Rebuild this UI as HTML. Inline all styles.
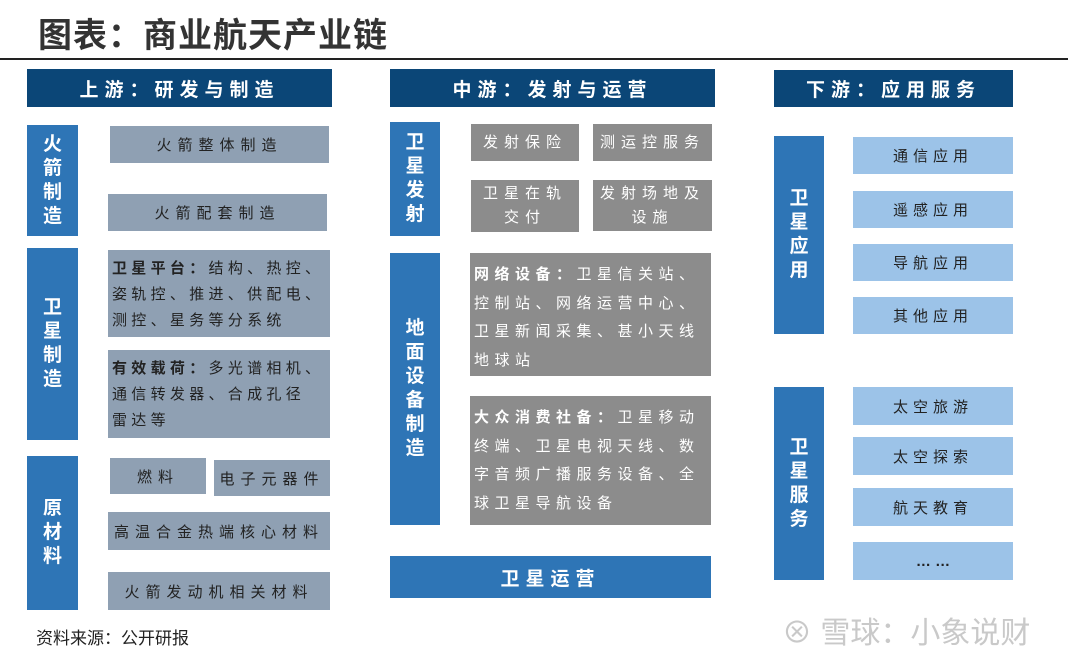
<!DOCTYPE html>
<html><head><meta charset="utf-8"><style>
*{margin:0;padding:0;box-sizing:border-box}
body{width:1068px;height:658px;background:#fff;position:relative;overflow:hidden;font-family:"Liberation Sans","Noto Sans CJK SC",sans-serif}
div{position:absolute}
.h{background:#0b4677;color:#fff;font-size:19px;font-weight:bold;letter-spacing:6px;display:flex;align-items:center;justify-content:center}
.v{background:#2e75b6;color:#fff;font-size:19px;font-weight:bold;line-height:24px;display:flex;align-items:center;justify-content:center;text-align:center;width:51px}
.g{background:#8fa0b3;color:#222;font-size:15px;letter-spacing:6px;display:flex;align-items:center;justify-content:center;text-align:center}
.m{background:#8c8c8c;color:#fff;font-size:15px;letter-spacing:6px;display:flex;align-items:center;justify-content:center;text-align:center;line-height:24px}
.t{display:block;text-align:left;padding:6px 0 0 4px;line-height:26px;letter-spacing:4.3px;white-space:nowrap}
.l{background:#9cc3e8;color:#222;font-size:15px;letter-spacing:5px;display:flex;align-items:center;justify-content:center;width:160px}
</style></head><body>
<div style="left:38px;top:8px;font-size:34px;font-weight:bold;color:#333;letter-spacing:1px">图表：商业航天产业链</div>
<div style="left:0;top:58px;width:1068px;height:2px;background:#222"></div>

<div class="h" style="left:27px;top:69px;width:305px;height:38px">上游：研发与制造</div>
<div class="h" style="left:390px;top:69px;width:325px;height:38px">中游：发射与运营</div>
<div class="h" style="left:774px;top:70px;width:239px;height:37px">下游：应用服务</div>

<div class="v" style="left:27px;top:125px;height:111px">火<br>箭<br>制<br>造</div>
<div class="v" style="left:27px;top:248px;height:192px">卫<br>星<br>制<br>造</div>
<div class="v" style="left:27px;top:456px;height:154px">原<br>材<br>料</div>
<div class="g" style="left:110px;top:126px;width:219px;height:37px">火箭整体制造</div>
<div class="g" style="left:108px;top:194px;width:219px;height:37px">火箭配套制造</div>
<div class="g t" style="left:108px;top:250px;width:222px;height:87px"><b>卫星平台：</b>结构、热控、<br>姿轨控、推进、供配电、<br>测控、星务等分系统</div>
<div class="g t" style="left:108px;top:350px;width:222px;height:88px"><b>有效载荷：</b>多光谱相机、<br>通信转发器、合成孔径<br>雷达等</div>
<div class="g" style="left:110px;top:458px;width:96px;height:36px">燃料</div>
<div class="g" style="left:214px;top:460px;width:116px;height:36px">电子元器件</div>
<div class="g" style="left:108px;top:512px;width:222px;height:38px">高温合金热端核心材料</div>
<div class="g" style="left:108px;top:572px;width:222px;height:38px">火箭发动机相关材料</div>

<div class="v" style="left:390px;top:122px;height:114px;width:50px">卫<br>星<br>发<br>射</div>
<div class="v" style="left:390px;top:253px;height:272px;width:50px">地<br>面<br>设<br>备<br>制<br>造</div>
<div class="m" style="left:471px;top:124px;width:108px;height:37px">发射保险</div>
<div class="m" style="left:593px;top:124px;width:119px;height:37px">测运控服务</div>
<div class="m" style="left:471px;top:180px;width:108px;height:52px">卫星在轨<br>交付</div>
<div class="m" style="left:593px;top:180px;width:119px;height:51px">发射场地及<br>设施</div>
<div class="m t" style="left:470px;top:253px;width:241px;height:123px;padding-top:8px;line-height:28.5px;letter-spacing:5.5px"><b>网络设备：</b>卫星信关站、<br>控制站、网络运营中心、<br>卫星新闻采集、甚小天线<br>地球站</div>
<div class="m t" style="left:470px;top:396px;width:241px;height:129px;padding-top:8px;line-height:28.5px;letter-spacing:5.5px"><b>大众消费社备：</b>卫星移动<br>终端、卫星电视天线、数<br>字音频广播服务设备、全<br>球卫星导航设备</div>
<div class="h" style="left:390px;top:556px;width:321px;height:42px;background:#2e75b6">卫星运营</div>

<div class="v" style="left:774px;top:136px;height:198px;width:50px">卫<br>星<br>应<br>用</div>
<div class="v" style="left:774px;top:387px;height:193px;width:50px">卫<br>星<br>服<br>务</div>
<div class="l" style="left:853px;top:137px;height:37px">通信应用</div>
<div class="l" style="left:853px;top:191px;height:37px">遥感应用</div>
<div class="l" style="left:853px;top:244px;height:37px">导航应用</div>
<div class="l" style="left:853px;top:297px;height:37px">其他应用</div>
<div class="l" style="left:853px;top:387px;height:38px">太空旅游</div>
<div class="l" style="left:853px;top:437px;height:38px">太空探索</div>
<div class="l" style="left:853px;top:488px;height:38px">航天教育</div>
<div class="l" style="left:853px;top:542px;height:38px;font-weight:bold;letter-spacing:0">… …</div>

<div style="left:36px;top:624px;font-size:17px;color:#222">资料来源：公开研报</div>
<div style="left:782px;top:608px;font-size:30px;color:#c9c9c9;white-space:nowrap">⊗ 雪球：小象说财</div>
</body></html>
